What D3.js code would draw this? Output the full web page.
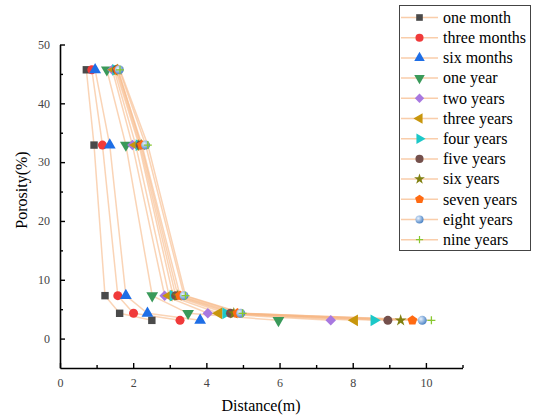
<!DOCTYPE html>
<html>
<head>
<meta charset="utf-8">
<script src="https://cdn.jsdelivr.net/npm/d3@7"></script>
<style>
  body { margin: 0; background: #fff; }
  svg text { font-family: "Liberation Serif", "Times New Roman", "DejaVu Serif", serif; }
</style>
</head>
<body>
<svg class="chart" width="540" height="417"></svg>
<script>
// porosity levels (same for every curve), distances read per curve
let porosity = [45.7, 32.9, 7.3, 4.3, 3.1];
let seriesNames = ["one month", "three months", "six months", "one year", "two years",
  "three years", "four years", "five years", "six years", "seven years", "eight years", "nine years"];
let distOneMonth    = [0.72, 0.93, 1.23, 1.63, 2.51];
let distThreeMonths = [0.87, 1.16, 1.58, 2.01, 3.28];
let distSixMonths   = [0.96, 1.36, 1.80, 2.39, 3.83];
let distOneYear     = [1.28, 1.80, 2.52, 3.50, 5.97];
let distTwoYears    = [1.43, 1.98, 2.86, 4.04, 7.40];
let distThreeYears  = [1.48, 2.07, 2.98, 4.34, 8.05];
let distFourYears   = [1.52, 2.16, 3.09, 4.53, 8.58];
let distFiveYears   = [1.55, 2.19, 3.16, 4.66, 8.96];
let distSixYears    = [1.58, 2.22, 3.22, 4.75, 9.31];
let distSevenYears  = [1.58, 2.24, 3.28, 4.85, 9.63];
let distEightYears  = [1.62, 2.34, 3.39, 4.94, 9.90];
let distNineYears   = [1.64, 2.40, 3.43, 4.99, 10.15];
let xTicks = [0, 2, 4, 6, 8, 10];
let xMinor = [1, 3, 5, 7, 9, 11];
let yTicks = [0, 10, 20, 30, 40, 50];
let yMinor = [5, 15, 25, 35, 45];

let distances = [distOneMonth, distThreeMonths, distSixMonths, distOneYear, distTwoYears,
  distThreeYears, distFourYears, distFiveYears, distSixYears, distSevenYears, distEightYears, distNineYears];

let serif = "Liberation Serif, Times New Roman, DejaVu Serif, serif";

// custom marker shapes
function polygon(ctx, r, n, start) {
  for (let i = 0; i < n; i++) {
    let a = start + i * 2 * Math.PI / n;
    if (i == 0) ctx.moveTo(r * Math.cos(a), r * Math.sin(a));
    else ctx.lineTo(r * Math.cos(a), r * Math.sin(a));
  }
  ctx.closePath();
}
let pentagon = { draw(ctx, size) { polygon(ctx, Math.sqrt(size / 2.38), 5, -Math.PI / 2); } };
let diamond = { draw(ctx, size) { polygon(ctx, Math.sqrt(size / 2), 4, -Math.PI / 2); } };
let triUp = { draw(ctx, size) { polygon(ctx, Math.sqrt(size / 1.3), 3, -Math.PI / 2); } };
let triDown = { draw(ctx, size) { polygon(ctx, Math.sqrt(size / 1.3), 3, Math.PI / 2); } };
let triLeft = { draw(ctx, size) { polygon(ctx, Math.sqrt(size / 1.3), 3, Math.PI); } };
let triRight = { draw(ctx, size) { polygon(ctx, Math.sqrt(size / 1.3), 3, 0); } };
let thinPlus = {
  draw(ctx, size) {
    let r = Math.sqrt(size) / 2;
    ctx.moveTo(-r, 0); ctx.lineTo(r, 0);
    ctx.moveTo(0, -r); ctx.lineTo(0, r);
  }
};

let styles = [
  { shape: d3.symbolSquare, color: "#4a4a4a", size: 55 },
  { shape: d3.symbolCircle, color: "#f03a3a", size: 64 },
  { shape: triUp, color: "#1e6ee6", size: 60 },
  { shape: triDown, color: "#3a9a5a", size: 60 },
  { shape: diamond, color: "#a878e0", size: 55 },
  { shape: triLeft, color: "#c8960c", size: 60 },
  { shape: triRight, color: "#1cc8c8", size: 60 },
  { shape: d3.symbolCircle, color: "#74504c", size: 64 },
  { shape: d3.symbolStar, color: "#808010", size: 45 },
  { shape: pentagon, color: "#ff6a12", size: 64 },
  { shape: d3.symbolCircle, color: "url(#ball)", size: 64 },
  { shape: thinPlus, color: "#88c830", size: 64, stroke: true }
];

let svg = d3.select("body").select(".chart");
let defs = svg.append("defs");
let grad = defs.append("radialGradient").attr("id", "ball").attr("cx", "35%").attr("cy", "35%").attr("r", "65%");
grad.append("stop").attr("offset", "0%").attr("stop-color", "#e8f2ff");
grad.append("stop").attr("offset", "100%").attr("stop-color", "#4f86c6");

let xScale = d3.scaleLinear().domain([0, 11]).range([60, 462.5]);
let yScale = d3.scaleLinear().domain([-5, 50]).range([368, 44.5]);

// curves
let line = d3.line().x(d => xScale(d[0])).y(d => yScale(d[1]));
let plot = svg.append("g").attr("id", "plot");
distances.forEach(function(dist) {
  plot.append("path")
    .datum(dist.map((d, i) => [d, porosity[i]]))
    .attr("d", line)
    .attr("fill", "none")
    .attr("stroke", "#f6b886")
    .attr("stroke-opacity", 0.6)
    .attr("stroke-width", 1.5);
});
distances.forEach(function(dist, s) {
  let st = styles[s];
  let sym = d3.symbol().type(st.shape).size(st.size);
  plot.selectAll(".m" + s)
    .data(dist.map((d, i) => [d, porosity[i]]))
    .join("path")
    .attr("class", "m" + s)
    .attr("transform", d => translate(xScale(d[0]), yScale(d[1])))
    .attr("d", sym)
    .attr("fill", st.stroke ? "none" : st.color)
    .attr("stroke", st.stroke ? st.color : "none")
    .attr("stroke-width", 1.3);
});

// axes
let xAxis = d3.axisBottom(xScale).tickValues(xTicks).tickSize(-5).tickSizeOuter(0).tickPadding(10);
svg.append("g").attr("transform", translate(0, 368)).call(xAxis);
svg.append("g").attr("transform", translate(0, 368))
  .call(d3.axisBottom(xScale).tickValues(xMinor).tickSize(-3).tickSizeOuter(0).tickFormat(""))
  .select(".domain").remove();
let yAxis = d3.axisLeft(yScale).tickValues(yTicks).tickSize(-5).tickSizeOuter(0).tickPadding(10);
svg.append("g").attr("transform", translate(60, 0)).call(yAxis);
svg.append("g").attr("transform", translate(60, 0))
  .call(d3.axisLeft(yScale).tickValues(yMinor).tickSize(-3).tickSizeOuter(0).tickFormat(""))
  .select(".domain").remove();
svg.selectAll(".domain").attr("stroke", "#000").attr("stroke-width", 1.6);
svg.selectAll(".tick line").attr("stroke", "#000").attr("stroke-width", 1.4);
svg.selectAll(".tick text")
  .attr("font-family", serif)
  .attr("font-size", 12)
  .attr("fill", "#444");

// axis titles
svg.append("text")
  .attr("x", 261).attr("y", 411)
  .attr("text-anchor", "middle")
  .attr("font-family", serif)
  .attr("font-size", 16)
  .text("Distance(m)");
svg.append("text")
  .attr("transform", translate(27, 190) + " rotate(-90)")
  .attr("text-anchor", "middle")
  .attr("font-family", serif)
  .attr("font-size", 16)
  .text("Porosity(%)");

// legend
let legend = svg.append("g").attr("id", "legend");
legend.append("rect")
  .attr("x", 399.5).attr("y", 5.5).attr("width", 131).attr("height", 245)
  .attr("fill", "#fff").attr("stroke", "#444").attr("stroke-width", 1);
seriesNames.forEach(function(name, s) {
  let st = styles[s];
  let y = 17.5 + s * 20.2;
  legend.append("line")
    .attr("x1", 401).attr("x2", 438).attr("y1", y).attr("y2", y)
    .attr("stroke", "#f6b886").attr("stroke-opacity", 0.7).attr("stroke-width", 1.5);
  legend.append("path")
    .attr("transform", translate(419.5, y))
    .attr("d", d3.symbol().type(st.shape).size(st.size * 0.8))
    .attr("fill", st.stroke ? "none" : st.color)
    .attr("stroke", st.stroke ? st.color : "none")
    .attr("stroke-width", 1.2);
  legend.append("text")
    .attr("x", 443).attr("y", y).attr("dy", "0.33em")
    .attr("font-family", serif)
    .attr("font-size", 16)
    .text(name);
});

function translate(x, y) {
  return 'translate(' + x + ',' + y + ')';
}
</script>
</body>
</html>
